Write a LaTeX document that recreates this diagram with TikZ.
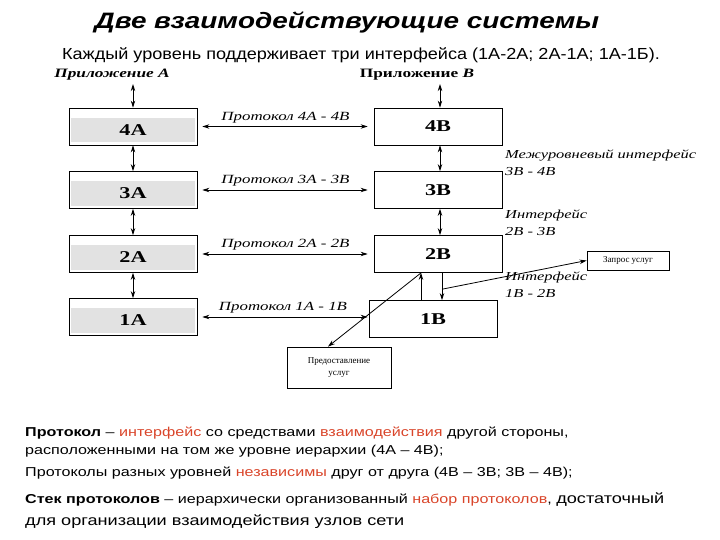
\documentclass[tikz,border=0pt]{standalone}
\usepackage{fontspec}
\setmainfont{Liberation Sans}
\newfontfamily\wsans[FakeStretch=1.25]{Liberation Sans}
\newfontfamily\msans[FakeStretch=1.13]{Liberation Sans}
\newfontfamily\wserif[FakeStretch=1.35]{Liberation Serif}
\newfontfamily\nserif{Liberation Serif}
\usetikzlibrary{arrows.meta, positioning, calc}
\definecolor{hlred}{HTML}{D9452A}
\definecolor{bandgray}{HTML}{E2E2E2}
\newcommand{\hl}[1]{\textcolor{hlred}{#1}}

\begin{document}
\begin{tikzpicture}[
    x=1pt, y=-1pt,
    lvlbox/.style={draw, line width=0.8pt, minimum width=128pt, minimum height=37pt, inner sep=0pt},
    lvltext/.style={font=\wserif\bfseries\fontsize{16.5}{18}\selectfont, inner sep=0pt},
    smallbox/.style={draw, line width=0.8pt, inner sep=0pt, align=center, font=\nserif\fontsize{9}{12}\selectfont},
    arr/.style={-{Stealth[length=7pt, width=4.5pt]}, line width=0.8pt},
    darr/.style={{Stealth[length=7pt, width=4.5pt]}-{Stealth[length=7pt, width=4.5pt]}, line width=0.8pt},
    plabel/.style={font=\wserif\itshape\fontsize{12.5}{15}\selectfont, inner sep=1pt},
    rlabel/.style={font=\wserif\itshape\fontsize{12.2}{17}\selectfont, align=left, inner sep=0pt, anchor=north west},
    body/.style={font=\wsans\fontsize{12.9}{18}\selectfont, anchor=base west, inner sep=0pt},
]
\useasboundingbox (0,0) rectangle (720,540);

% headings
\node[font=\wsans\bfseries\itshape\fontsize{22.3}{24}\selectfont] (title) at (347,22) {Две взаимодействующие системы};
\node[font=\msans\fontsize{16}{18}\selectfont] (sub) at (361,55) {Каждый уровень поддерживает три интерфейса (1А-2А; 2А-1А; 1А-1Б).};
\node[font=\wserif\bfseries\itshape\fontsize{12.8}{15}\selectfont] (appA) at (112,75) {Приложение А};
\node[font=\wserif\bfseries\fontsize{12.8}{15}\selectfont] (appB) at (417,75) {Приложение \textit{B}};

% system A
\foreach \n/\y in {4/126.5, 3/190, 2/254, 1/317}{
    \node[lvlbox] (a\n) at (133,\y) {};
    \fill[bandgray] ([shift={(2pt,-10pt)}]a\n.north west) rectangle ([shift={(-2pt,3pt)}]a\n.south east);
    \node[lvltext] at ([yshift=-3.5pt]a\n.center) {\n A};
}

% system B
\node[lvlbox, font=\wserif\bfseries\fontsize{16.5}{18}\selectfont] (b4) at (438,126.5) {4B};
\node[lvlbox, font=\wserif\bfseries\fontsize{16.5}{18}\selectfont] (b3) at (438,190) {3B};
\node[lvlbox, font=\wserif\bfseries\fontsize{16.5}{18}\selectfont] (b2) at (438,254) {2B};
\node[lvlbox, font=\wserif\bfseries\fontsize{16.5}{18}\selectfont] (b1) at (433,319) {1B};

\node[smallbox, minimum width=82pt, minimum height=19pt] (zap) at (628,260.5) {Запрос услуг};
\node[smallbox, minimum width=104pt, minimum height=41pt] (serv) at (339,367.5) {Предоставление\\услуг};

% vertical interfaces
\draw[darr] (a4.north |- appA.south) -- (a4.north);
\draw[darr] (a4) -- (a3);
\draw[darr] (a3) -- (a2);
\draw[darr] (a2) -- (a1);
\draw[darr] ([xshift=2pt]b4.north |- appB.south) -- ([xshift=2pt]b4.north);
\draw[darr] ([xshift=2pt]b4.south) -- ([xshift=2pt]b3.north);
\draw[darr] ([xshift=2pt]b3.south) -- ([xshift=2pt]b2.north);
\coordinate (d21) at ([xshift=4pt]b2.south);
\draw[arr] (d21) -- (d21 |- b1.north);
\draw[arr] ($(d21)!0.6!(d21 |- b1.north)$) -- (zap.west);
\coordinate (up1) at ([xshift=-12pt]b1.north);
\draw[arr] (up1) -- (up1 |- b2.south);
\draw[arr] (up1 |- b2.south) -- ([xshift=-11pt]serv.north);

% protocols
\draw[darr, shorten <=5pt, shorten >=6pt] (a4.east) -- (b4.west) node[plabel, midway, above=2pt] {Протокол 4А - 4В};
\draw[darr, shorten <=5pt, shorten >=6pt] (a3.east) -- (b3.west) node[plabel, midway, above=2pt] {Протокол 3А - 3В};
\draw[darr, shorten <=5pt, shorten >=6pt] (a2.east) -- (b2.west) node[plabel, midway, above=2pt] {Протокол 2А - 2В};
\draw[darr, shorten <=5pt, shorten >=1pt] (a1.east) -- (a1.east -| b1.west) node[plabel, midway, above=2pt] {Протокол 1А - 1В};

\node[rlabel] (ilev) at (505,150) {Межуровневый интерфейс\\3В - 4В};
\node[rlabel] (i23) at (505,210) {Интерфейс\\2В - 3В};
\node[rlabel] (i12) at (505,272) {Интерфейс\\1В - 2В};

% definitions
\node[body] (t1) at (25,436) {\textbf{Протокол} – \hl{интерфейс} со средствами \hl{взаимодействия} другой стороны,};
\node[body] (t2) at (25,454) {расположенными на том же уровне иерархии (4А – 4В);};
\node[body] (t3) at (25,476) {Протоколы разных уровней \hl{независимы} друг от друга (4В – 3В; 3В – 4В);};
\node[body] (t4) at (25,503) {\textbf{Стек протоколов} – иерархически организованный \hl{набор протоколов}, {\fontsize{14.5}{18}\selectfont достаточный}};
\node[body, font=\wsans\fontsize{14.5}{18}\selectfont] (t5) at (25,525) {для организации взаимодействия узлов сети};
\end{tikzpicture}
\end{document}
